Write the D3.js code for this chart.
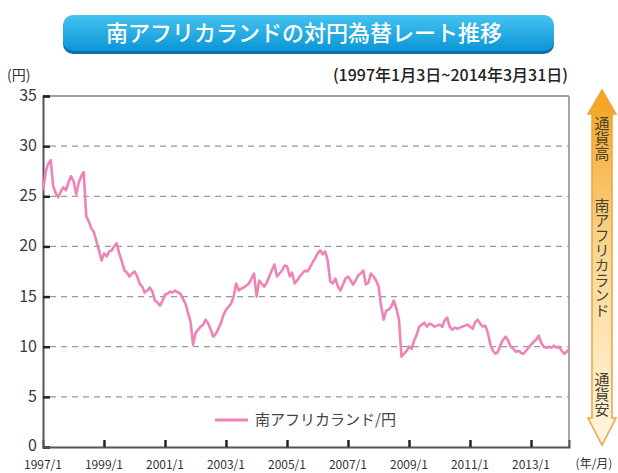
<html>
<head>
<meta charset="utf-8">
<title>南アフリカランドの対円為替レート推移</title>
<script src="https://cdn.jsdelivr.net/npm/d3@7"></script>
<style>
  body { margin: 0; background: #fff; }
  svg text { font-family: "Noto Sans CJK JP", "Noto Sans", sans-serif; }
</style>
</head>
<body>
<div id="chart"></div>
<script>
// monthly readings (円), Jan..Dec for each year
var years = [1997,1998,1999,2000,2001,2002,2003,2004,2005,2006,2007,2008,2009,2010,2011,2012,2013,2014];
var rates = [
  [25.6,27.5,28.2,28.6,26.0,25.3,24.9,25.5,25.9,25.6,26.4,27.0],
  [26.5,25.2,26.3,27.0,27.4,23.0,22.5,21.8,21.4,20.5,19.6,18.6],
  [19.3,19.0,19.5,19.6,20.0,20.3,19.3,18.5,17.6,17.4,17.0,17.3],
  [17.5,17.0,16.3,16.0,15.4,15.6,15.9,15.5,14.6,14.4,14.1,14.6],
  [15.2,15.3,15.5,15.4,15.6,15.4,15.3,14.8,14.3,13.4,12.5,10.2],
  [11.4,11.7,12.0,12.2,12.7,12.3,11.7,11.0,11.3,11.8,12.4,13.2],
  [13.7,14.0,14.3,15.0,16.3,15.6,15.8,15.9,16.1,16.3,16.8,17.3],
  [15.0,16.6,16.3,16.0,16.4,17.0,17.6,18.2,17.0,17.3,17.6,18.1],
  [18.0,17.0,17.4,16.3,16.6,17.0,17.3,17.6,17.5,17.9,18.4,18.8],
  [19.3,19.6,19.2,19.5,18.6,16.5,16.3,16.8,16.0,15.6,16.2,16.8],
  [17.0,16.6,16.2,16.6,17.1,17.3,17.6,16.2,16.4,17.3,17.0,16.6],
  [16.0,14.0,12.7,13.6,13.7,14.0,14.6,13.8,12.7,9.0,9.3,9.6],
  [10.0,9.8,10.6,11.2,12.0,12.2,12.4,12.0,12.3,12.2,12.0,12.1],
  [12.2,12.0,12.6,12.9,12.0,11.7,11.9,11.8,11.9,12.0,12.1,12.2],
  [12.0,11.8,12.4,12.7,12.3,12.0,12.1,11.4,10.2,9.6,9.3,9.5],
  [10.2,10.7,11.0,10.6,10.0,9.8,9.5,9.6,9.4,9.3,9.6,9.9],
  [10.2,10.5,10.7,11.1,10.4,10.0,9.9,10.0,9.9,10.1,9.9,10.0],
  [9.6,9.3,9.7]
];
var yTicks = [0,5,10,15,20,25,30,35];
var xTickYears = [1997,1999,2001,2003,2005,2007,2009,2011,2013];

var data = [];
years.forEach(function(y, i) {
  rates[i].forEach(function(v, m) {
    data.push({ date: new Date(y, m, 3), value: v });
  });
});
data[data.length - 1].date = new Date(2014, 2, 31);

var width = 618, height = 473;
var svg = d3.select("#chart").append("svg")
  .attr("width", width).attr("height", height);

var x = d3.scaleTime()
  .domain([new Date(1997, 0, 1), new Date(2014, 3, 1)])
  .range([43, 569]);
var y = d3.scaleLinear().domain([0, 35]).range([447, 96]);

// title box
var defs = svg.append("defs");
var tg = defs.append("linearGradient").attr("id", "tg").attr("x1", 0).attr("y1", 0).attr("x2", 0).attr("y2", 1);
tg.append("stop").attr("offset", "0%").attr("stop-color", "#45c3f0");
tg.append("stop").attr("offset", "100%").attr("stop-color", "#0b96d6");
svg.append("rect").attr("x", 63).attr("y", 17).attr("width", 491).attr("height", 37)
  .attr("rx", 10).attr("fill", "#1668b0");
svg.append("rect").attr("x", 63).attr("y", 15).attr("width", 491).attr("height", 36)
  .attr("rx", 10).attr("fill", "url(#tg)");
svg.append("text").attr("x", 304).attr("y", 41).attr("text-anchor", "middle")
  .attr("font-size", 22).attr("font-weight", 500).attr("fill", "#fff")
  .text("南アフリカランドの対円為替レート推移");

svg.append("text").attr("x", 7).attr("y", 80).attr("font-size", 14).attr("fill", "#333")
  .text("(円)");
svg.append("text").attr("x", 568).attr("y", 81).attr("text-anchor", "end")
  .attr("font-size", 16).attr("font-weight", 500).attr("fill", "#222")
  .text("(1997年1月3日~2014年3月31日)");

// gridlines
svg.append("g").selectAll("line").data(yTicks.filter(function(d){ return d > 0 && d < 35; }))
  .join("line")
  .attr("x1", 50).attr("x2", 569)
  .attr("y1", function(d){ return y(d); }).attr("y2", function(d){ return y(d); })
  .attr("stroke", "#9a9a9a").attr("stroke-width", 1.2).attr("stroke-dasharray", "6,5");

// frame
svg.append("line").attr("x1", 43).attr("x2", 569).attr("y1", y(35)).attr("y2", y(35))
  .attr("stroke", "#a0a0a0").attr("stroke-width", 2);
svg.append("line").attr("x1", 569).attr("x2", 569).attr("y1", y(35)).attr("y2", y(0))
  .attr("stroke", "#8a8a8a").attr("stroke-width", 1.5);

// y axis
var yAxis = svg.append("g").attr("transform", "translate(43,0)")
  .call(d3.axisRight(y).tickValues(yTicks).tickSize(7).tickFormat(""));
yAxis.select(".domain").attr("stroke", "#555").attr("stroke-width", 2);
yAxis.selectAll(".tick line").attr("stroke", "#222").attr("stroke-width", 2.5);
svg.append("g").selectAll("text").data(yTicks).join("text")
  .attr("x", 37).attr("y", function(d){ return y(d) + (d === 0 ? 4 : 5); })
  .attr("text-anchor", "end").attr("font-size", 16).attr("fill", "#3a3a48")
  .attr("font-family", "Liberation Sans, Arial, sans-serif")
  .text(function(d){ return d; });

// x axis
var xAxis = svg.append("g").attr("transform", "translate(0,447)")
  .call(d3.axisTop(x).tickValues(xTickYears.map(function(v){ return new Date(v, 0, 1); }))
    .tickSize(7).tickFormat(""));
xAxis.select(".domain").attr("stroke", "#555").attr("stroke-width", 2);
xAxis.selectAll(".tick line").attr("stroke", "#222").attr("stroke-width", 2.5);
xAxis.selectAll(".tick").filter(function(d, i){ return i === 0; }).remove();
svg.append("g").selectAll("text").data(xTickYears).join("text")
  .attr("x", function(d){ return x(new Date(d, 0, 1)); }).attr("y", 469)
  .attr("text-anchor", "middle").attr("font-size", 12).attr("fill", "#333")
  .attr("font-family", "Liberation Sans Narrow, Liberation Sans, sans-serif")
  .text(function(d){ return d + "/1"; });
svg.append("text").attr("x", 594).attr("y", 468).attr("text-anchor", "middle")
  .attr("font-size", 12).attr("fill", "#333").text("(年/月)");

// rate line
var line = d3.line().x(function(d){ return x(d.date); }).y(function(d){ return y(d.value); });
svg.append("path").datum(data).attr("d", line)
  .attr("fill", "none").attr("stroke", "#ef82b6").attr("stroke-width", 2.6)
  .attr("stroke-linejoin", "round");

// legend
svg.append("line").attr("x1", 215).attr("x2", 248).attr("y1", 420).attr("y2", 420)
  .attr("stroke", "#ef82b6").attr("stroke-width", 3);
svg.append("text").attr("x", 255).attr("y", 425).attr("font-size", 15).attr("fill", "#444")
  .text("南アフリカランド/円");

// right-side arrow
var ag = defs.append("linearGradient").attr("id", "ag").attr("x1", 0).attr("y1", 0).attr("x2", 0).attr("y2", 1);
ag.append("stop").attr("offset", "0%").attr("stop-color", "#f5a11e");
ag.append("stop").attr("offset", "45%").attr("stop-color", "#fbd690");
ag.append("stop").attr("offset", "100%").attr("stop-color", "#fff6e2");
var ax = 602;
svg.append("path")
  .attr("d", "M" + ax + ",90 L" + (ax + 14) + ",114 L" + (ax + 10) + ",114 L" + (ax + 10) + ",418 L" + (ax + 14) + ",418 L" + ax + ",445 L" + (ax - 14) + ",418 L" + (ax - 10) + ",418 L" + (ax - 10) + ",114 L" + (ax - 14) + ",114 Z")
  .attr("fill", "url(#ag)").attr("stroke", "#f0a340").attr("stroke-width", 1.5);
[["通貨高", 116], ["南アフリカランド", 198], ["通貨安", 372]].forEach(function(t){
  svg.append("text").attr("x", ax).attr("y", t[1])
    .style("writing-mode", "vertical-rl").style("text-orientation", "upright")
    .attr("font-size", 15).attr("fill", "#454530").text(t[0]);
});
</script>
</body>
</html>
